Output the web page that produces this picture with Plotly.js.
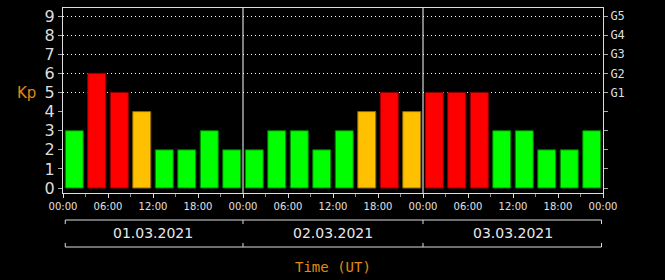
<!DOCTYPE html>
<html><head><meta charset="utf-8">
<script src="https://cdn.plot.ly/plotly-3.0.1.min.js"></script>
<style>html,body{margin:0;padding:0;background:#000;}#c{width:665px;height:280px;}</style>
</head><body><div id="c"></div>
<script>
// 3-hour Kp index values, 01.03.2021 - 03.03.2021 (hours since 01.03.2021 00:00 UT)
const hours = [1.5,4.5,7.5,10.5,13.5,16.5,19.5,22.5,
               25.5,28.5,31.5,34.5,37.5,40.5,43.5,46.5,
               49.5,52.5,55.5,58.5,61.5,64.5,67.5,70.5];
const kp = [3,6,5,4,2,2,3,2,
            2,3,3,2,3,4,5,4,
            5,5,5,3,3,2,2,3];
const xTickVals = [0,6,12,18,24,30,36,42,48,54,60,66,72];
const xTickText = ["00:00","06:00","12:00","18:00","00:00","06:00","12:00","18:00","00:00","06:00","12:00","18:00","00:00"];
const dayCenters = [12,36,60];
const dayLabels = ["01.03.2021","02.03.2021","03.03.2021"];
const dayBounds = [0,24,48,72];
const kpTicks = [0,1,2,3,4,5,6,7,8,9];
const gTickVals = [5,6,7,8,9];
const gTickText = ["G1","G2","G3","G4","G5"];

function colorFor(v){ return v>=5 ? '#ff0000' : (v>=4 ? '#ffc000' : '#00ff00'); }
function edgeFor(v){ return v>=5 ? '#8a0000' : (v>=4 ? '#8a6800' : '#007a00'); }

const traces = [
  {type:'bar', x:hours, y:kp, width:2.4,
   marker:{color:kp.map(colorFor), line:{color:kp.map(edgeFor), width:1}},
   hoverinfo:'x+y', showlegend:false},
  {type:'scatter', mode:'none', x:[hours[0]], y:[kp[0]], yaxis:'y2', showlegend:false, hoverinfo:'skip'}
];

const shapes = [];
[dayBounds[1], dayBounds[2]].forEach(d => shapes.push({type:'line', xref:'x', yref:'paper', x0:d, x1:d, y0:0, y1:1, line:{color:'#ffffff', width:1}}));
const yTop = -0.146, yBot = -0.292, tk = 0.022;
shapes.push({type:'line', xref:'x', yref:'paper', x0:dayBounds[0]+0.3, x1:dayBounds[3]-0.2, y0:yTop, y1:yTop, line:{color:'#dddddd', width:1}});
shapes.push({type:'line', xref:'x', yref:'paper', x0:dayBounds[0]+0.3, x1:dayBounds[3]-0.2, y0:yBot, y1:yBot, line:{color:'#dddddd', width:1}});
dayBounds.forEach((d,i) => {
  const xx = i===0 ? d+0.3 : (i===3 ? d-0.2 : d);
  shapes.push({type:'line', xref:'x', yref:'paper', x0:xx, x1:xx, y0:yTop, y1:yTop-tk, line:{color:'#dddddd', width:1}});
  shapes.push({type:'line', xref:'x', yref:'paper', x0:xx, x1:xx, y0:yBot, y1:yBot+tk, line:{color:'#dddddd', width:1}});
});

const annotations = dayCenters.map((c,i) => ({x:c, xref:'x', y:-0.216, yref:'paper', text:dayLabels[i], showarrow:false,
  font:{family:'DejaVu Sans', size:14, color:'#e8e8e8'}, xanchor:'center', yanchor:'middle'}));
annotations.push({xref:'paper', x:-0.067, yref:'paper', y:0.54, text:'Kp', showarrow:false,
  font:{family:'DejaVu Sans', size:15, color:'#e08a10'}, xanchor:'center', yanchor:'middle'});
annotations.push({xref:'paper', x:0.5, yref:'paper', y:-0.402, text:'Time (UT)', showarrow:false,
  font:{family:'DejaVu Sans Mono', size:14, color:'#e08a10'}, xanchor:'center', yanchor:'middle'});

const layout = {
  width:665, height:280,
  paper_bgcolor:'#000', plot_bgcolor:'#000',
  margin:{l:63, r:62, t:8, b:87},
  bargap:0,
  xaxis:{range:[0,72], tickmode:'array', tickvals:xTickVals, ticktext:xTickText,
    ticks:'outside', ticklen:4, tickcolor:'#dddddd', showgrid:false, zeroline:false,
    showline:true, linecolor:'#dddddd', linewidth:1, mirror:true,
    tickfont:{family:'DejaVu Sans', size:10, color:'#e0e0e0'},
    minor:{tickmode:'linear', tick0:0, dtick:3, ticklen:3, tickcolor:'#888888', showgrid:false}},
  yaxis:{range:[-0.26,9.42], tickmode:'array', tickvals:kpTicks,
    ticks:'outside', ticklen:4, tickcolor:'#aaaaaa', showgrid:false, zeroline:false,
    showline:true, linecolor:'#dddddd', linewidth:1, mirror:true,
    tickfont:{family:'DejaVu Sans', size:16, color:'#dddddd'}},
  yaxis2:{range:[-0.26,9.42], overlaying:'y', side:'right', tickmode:'array', tickvals:gTickVals, ticktext:gTickText,
    ticks:'outside', ticklen:4, tickcolor:'#aaaaaa', showgrid:true, gridcolor:'#ffffff', griddash:'1px,3px', gridwidth:1,
    zeroline:false, showline:false,
    tickfont:{family:'DejaVu Sans Mono', size:12, color:'#dddddd'},
    minor:{tickmode:'linear', tick0:0, dtick:1, ticklen:4, tickcolor:'#aaaaaa', showgrid:false}},
  shapes:shapes, annotations:annotations
};
Plotly.newPlot('c', traces, layout, {displayModeBar:false, staticPlot:true});
</script></body></html>
